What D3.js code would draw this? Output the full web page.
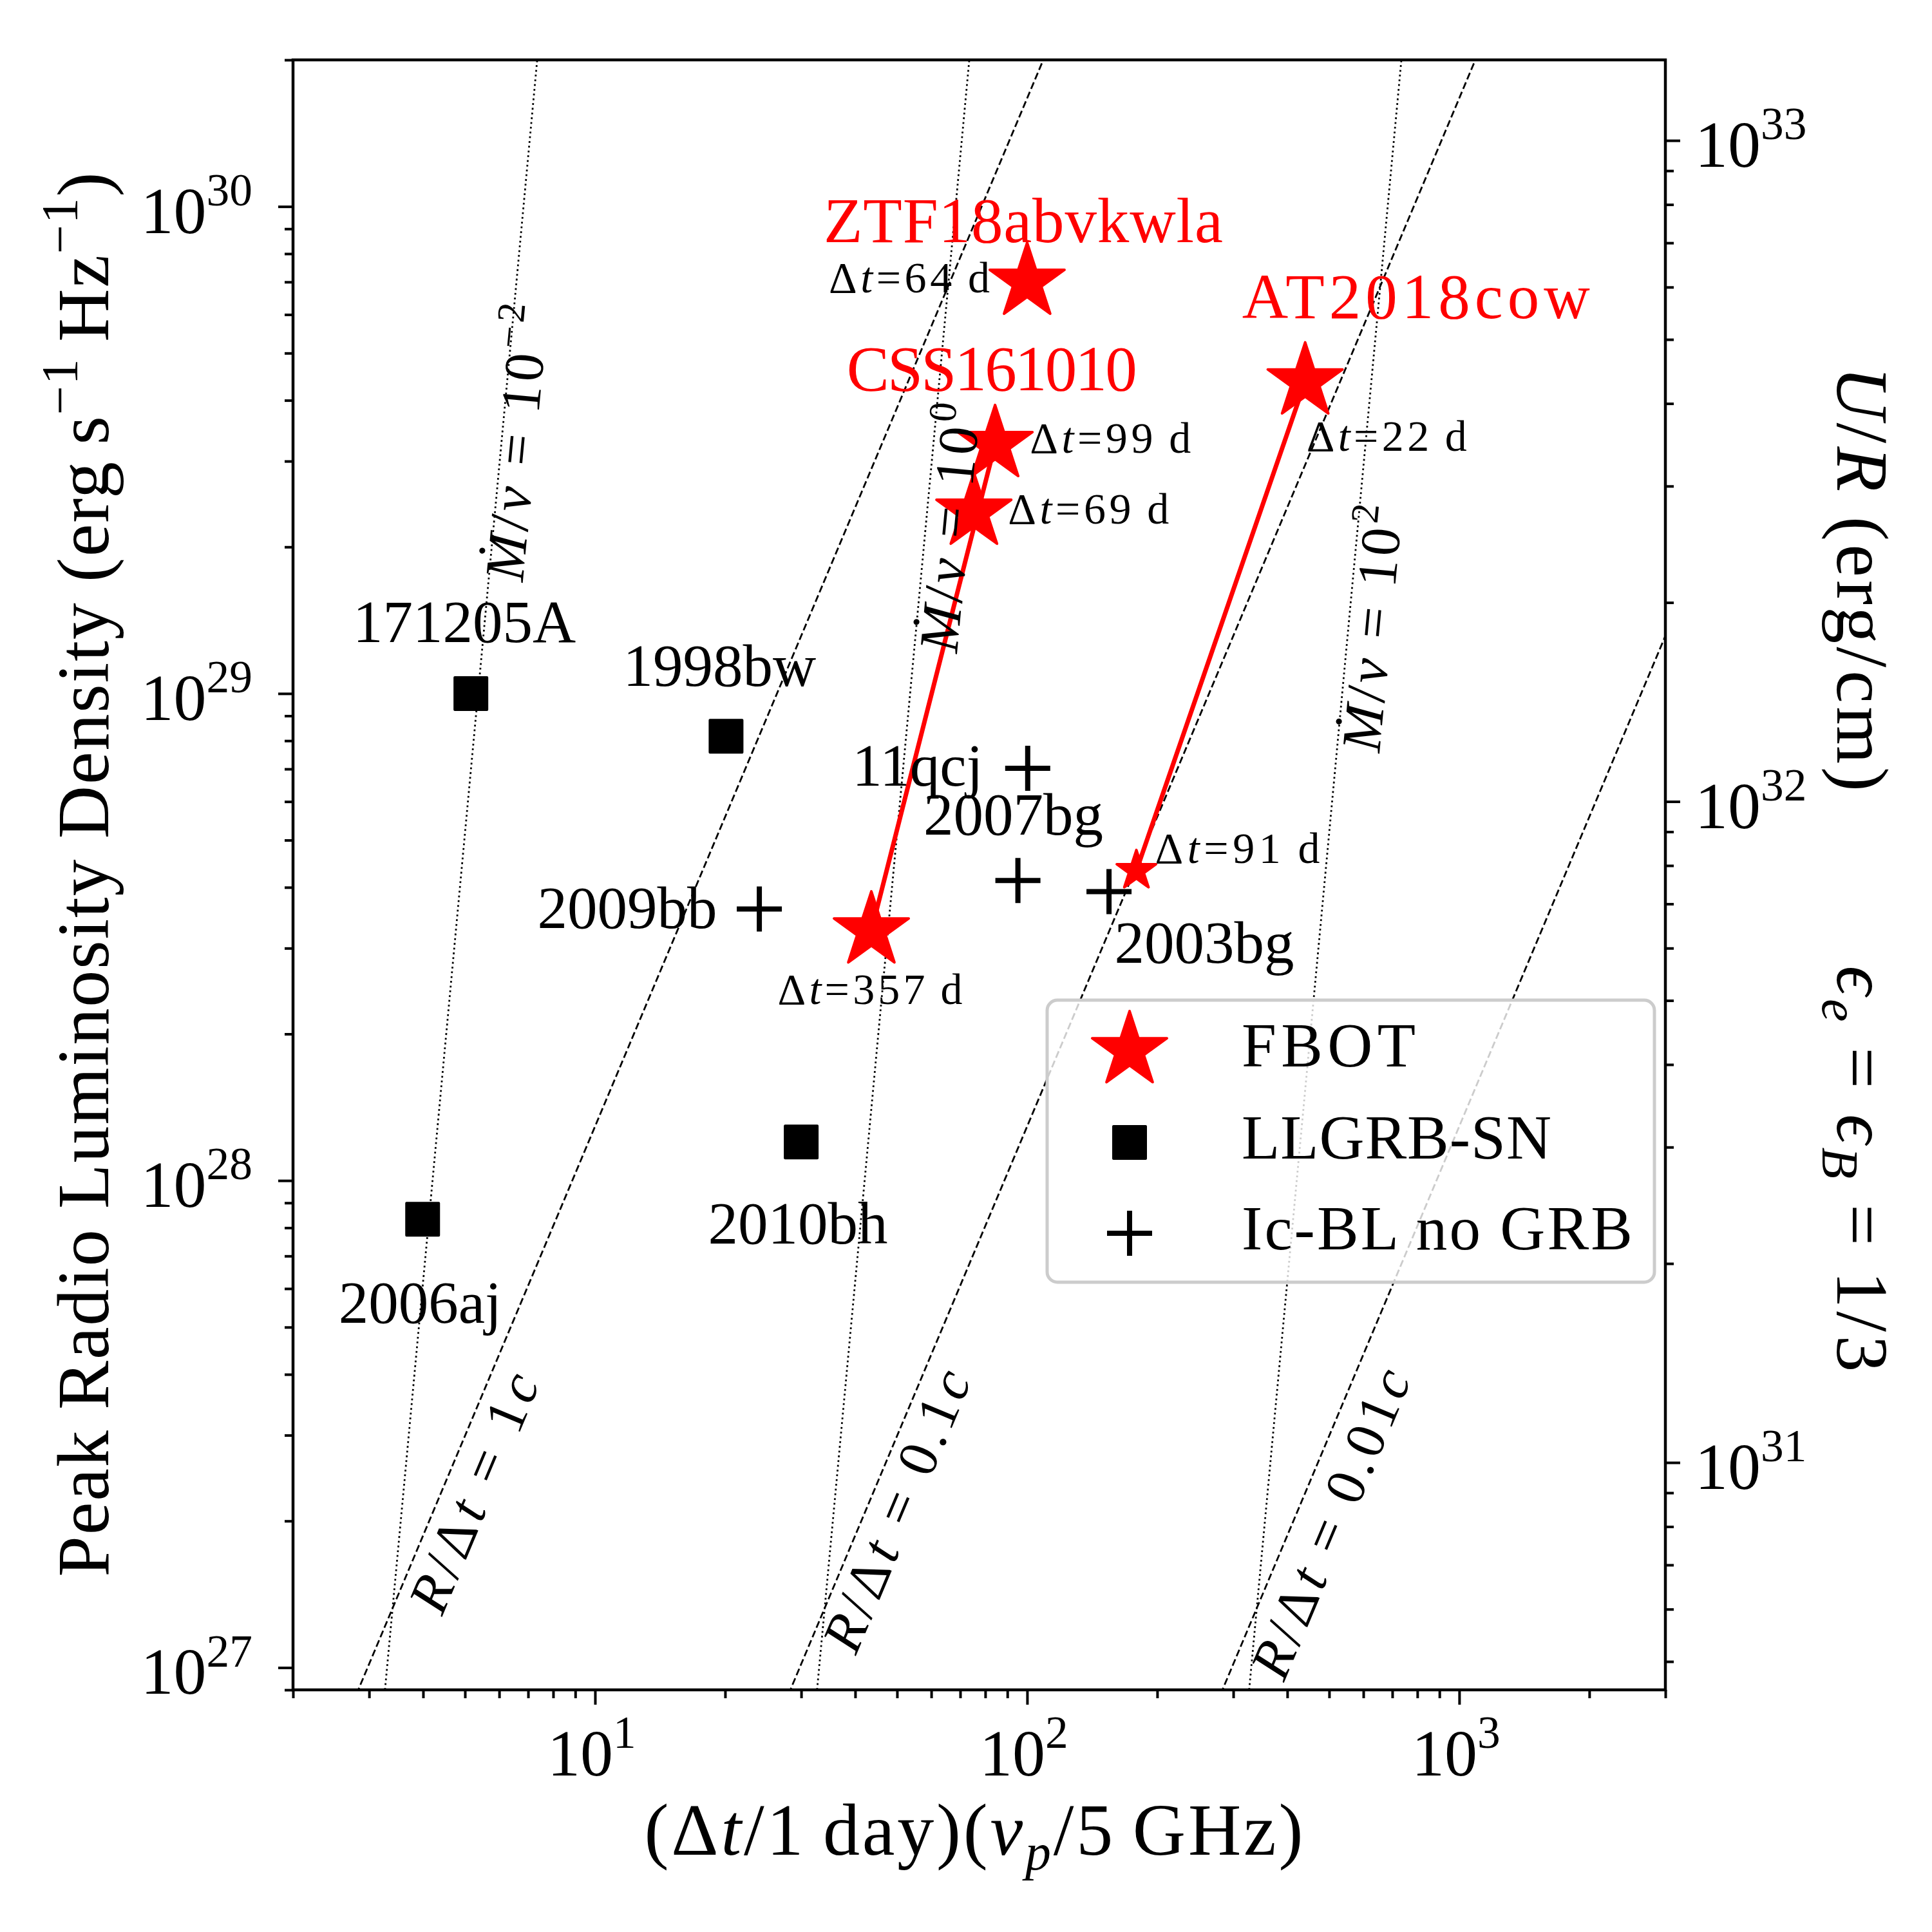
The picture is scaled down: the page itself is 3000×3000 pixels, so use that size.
<!DOCTYPE html>
<html><head><meta charset="utf-8">
<script src="https://cdn.jsdelivr.net/npm/d3@7"></script>
<style>body{margin:0;background:#fff}</style>
</head><body><div id="chart"></div>
<script>
// ================= DATA =================
// FBOT (red stars)
const fbotNames = ["ZTF18abvkwla", "AT2018cow", "AT2018cow", "CSS161010", "CSS161010", "CSS161010"];
const fbotDt    = [64, 22, 91, 99, 69, 357];
const fbotX     = [100, 440, 179, 84.3, 75.3, 43.6];
const fbotL     = [7.0e29, 4.37e29, 4.33e28, 3.25e29, 2.36e29, 3.26e28];
const fbotBig   = [true, true, false, true, true, true];
const fbotArrows = [[5, 3], [2, 1]];          // from index -> to index
// LLGRB-SN (black squares)
const llgrbNames = ["171205A", "1998bw", "2010bh", "2006aj"];
const llgrbX     = [5.16, 20.1, 30.0, 3.99];
const llgrbL     = [1.0e29, 8.17e28, 1.2e28, 8.33e27];
// Ic-BL no GRB (plus)
const icblNames = ["11qcj", "2007bg", "2009bb", "2003bg"];
const icblX     = [100.3, 95.2, 24.0, 154.7];
const icblL     = [7.02e28, 4.13e28, 3.61e28, 3.92e28];
// Axes
const xDomain = [2, 3000];
const yDomain = [9e26, 2e30];
const uDomain = [4.53e30, 1.324e33];
const xTickValues = [1e1, 1e2, 1e3];
const xTickExps   = ["1", "2", "3"];
const yTickValues = [1e27, 1e28, 1e29, 1e30];
const yTickExps   = ["27", "28", "29", "30"];
const uTickValues = [1e31, 1e32, 1e33];
const uTickExps   = ["31", "32", "33"];
// Model lines
const velocities   = [1, 0.1, 0.01];            // R/Δt in units of c
const velocityText = ["1", "0.1", "0.01"];
const mdots        = [1e-2, 1, 1e2];             // Ṁ/v
const mdotExps     = ["−2", "0", "2"];
const radiusNorm = 1e26, radiusSlope = 19 / 9;   // L = norm (x v/c)^(19/9)
const mdotNorm = 3.74e12, mdotSlope = 9.5, mdotPow = 4.75; // L = norm x^9.5 (Ṁ/v)^-4.75
const legendLabels = ["FBOT", "LLGRB-SN", "Ic-BL no GRB"];

// ================= LAYOUT =================
const W = 3000, H = 3000;
const M = {left: 455, right: 2586, top: 93, bottom: 2624};
const RED = "#ff0000";
const FONT = '"Liberation Serif", "DejaVu Serif", serif';
// label anchors in data coordinates (like ax.text)
const velLabelPos  = [[5.75, 2.21e27], [54.7, 2.03e27], [552.6, 1.91e27]];
const velLabelLen  = [394, 465, 512];
const mdotLabelPos = [[7.29, 3.25e29], [73.2, 2.17e29], [695, 1.35e29]];
const mdotLabelLen = [431, 387, 384];
// pixel offsets of labels from their markers
const nameOffsets = {
  "171205A": [-10, -80], "1998bw": [-10, -78], "2010bh": [-5, 158], "2006aj": [-4, 161],
  "11qcj": [-171, 27], "2007bg": [-7, -71], "2009bb": [-205, 29], "2003bg": [148, 111]
};
const redLabelOffsets = [[0, [-6, -62], 620], [1, [172, -99], 540], [3, [-5, -84], 451]];
const dtOffsets = [[-58, 16, "end", 250], [2, 107, "start", 249], [29, -12, "start", 256],
                   [54, 13, "start", 250], [53, 18, "start", 250], [-2, 114, "middle", 287]];

const x  = d3.scaleLog().domain(xDomain).range([M.left, M.right]);
const y  = d3.scaleLog().domain(yDomain).range([M.bottom, M.top]);
const yU = d3.scaleLog().domain(uDomain).range([M.bottom, M.top]);

const svg = d3.select("#chart").append("svg")
  .attr("width", W).attr("height", H).attr("viewBox", `0 0 ${W} ${H}`)
  .style("font-family", FONT);
svg.append("rect").attr("width", W).attr("height", H).attr("fill", "#fff");
svg.append("clipPath").attr("id", "clip").append("rect")
  .attr("x", M.left).attr("y", M.top).attr("width", M.right - M.left).attr("height", M.bottom - M.top);

function rich(sel, parts, fs) {
  let shift = 0;
  parts.forEach(p => {
    const target = p.sup ? -0.42 * fs : p.sub ? 0.2 * fs : 0;
    const ts = sel.append("tspan").text(p.t).attr("dy", target - shift);
    if (p.sup || p.sub) ts.attr("font-size", fs * 0.7);
    if (p.it) ts.attr("font-style", "italic");
    shift = target;
  });
  return sel;
}
function fit(sel, len) {
  return sel.attr("textLength", len).attr("lengthAdjust", "spacing");
}
const isDecade = v => Math.abs(Math.log10(v) - Math.round(Math.log10(v))) < 1e-9;

// ================= GUIDE LINES =================
const plot = svg.append("g").attr("clip-path", "url(#clip)");
const Lrange = [yDomain[0] / 3, yDomain[1] * 3];
const lineGen = d3.line().x(d => x(d[0])).y(d => y(d[1]));
velocities.forEach(v => {
  const pts = Lrange.map(L => [Math.pow(L / radiusNorm, 1 / radiusSlope) / v, L]);
  plot.append("path").attr("d", lineGen(pts)).attr("fill", "none")
    .attr("stroke", "#000").attr("stroke-width", 2.8).attr("stroke-dasharray", "11,5");
});
mdots.forEach(m => {
  const pts = Lrange.map(L => [Math.pow(L * Math.pow(m, mdotPow) / mdotNorm, 1 / mdotSlope), L]);
  plot.append("path").attr("d", lineGen(pts)).attr("fill", "none")
    .attr("stroke", "#000").attr("stroke-width", 2.8).attr("stroke-dasharray", "2.8,4.6");
});

// ================= RED ARROWS =================
fbotArrows.forEach(([a, b]) => {
  plot.append("line")
    .attr("x1", x(fbotX[a])).attr("y1", y(fbotL[a]))
    .attr("x2", x(fbotX[b])).attr("y2", y(fbotL[b]))
    .attr("stroke", RED).attr("stroke-width", 7).attr("stroke-linecap", "round");
});

// ================= MARKERS =================
const starBig = d3.symbol().type(d3.symbolStar).size(61 * 61 / 0.8908130915292852)();
const starSmall = d3.symbol().type(d3.symbolStar).size(32 * 32 / 0.8908130915292852)();
const squarePath = d3.symbol().type(d3.symbolSquare).size(50 * 50)();
const plusPath = "M-35,0H35M0,-35V35";

llgrbX.forEach((v, i) => {
  plot.append("path").attr("d", squarePath)
    .attr("transform", `translate(${x(v)},${y(llgrbL[i])})`)
    .attr("fill", "#000").attr("stroke", "#000").attr("stroke-width", 4).attr("stroke-linejoin", "round");
});
icblX.forEach((v, i) => {
  plot.append("path").attr("d", plusPath)
    .attr("transform", `translate(${x(v)},${y(icblL[i])})`)
    .attr("fill", "none").attr("stroke", "#000").attr("stroke-width", 8);
});
fbotX.forEach((v, i) => {
  plot.append("path").attr("d", fbotBig[i] ? starBig : starSmall)
    .attr("transform", `translate(${x(v)},${y(fbotL[i])})`)
    .attr("fill", RED).attr("stroke", RED).attr("stroke-width", 4).attr("stroke-linejoin", "round");
});

// ================= AXES =================
const axes = svg.append("g");
const TW = 4;
function drawTicks(axisFn, scale, vals, len, transform) {
  const g = axes.append("g").attr("transform", transform)
    .call(axisFn(scale).tickValues(vals).tickSize(len).tickFormat(""));
  g.select(".domain").remove();
  g.selectAll(".tick line").attr("stroke", "#000").attr("stroke-width", TW);
}
const xAll = x.ticks(), yAll = y.ticks(), uAll = yU.ticks();
drawTicks(d3.axisBottom, x, xAll.filter(v => !isDecade(v)), 13, `translate(0,${M.bottom})`);
drawTicks(d3.axisBottom, x, xTickValues, 23, `translate(0,${M.bottom})`);
drawTicks(d3.axisLeft, y, yAll.filter(v => !isDecade(v)), 13, `translate(${M.left},0)`);
drawTicks(d3.axisLeft, y, yTickValues, 23, `translate(${M.left},0)`);
drawTicks(d3.axisRight, yU, uAll.filter(v => !isDecade(v)), 13, `translate(${M.right},0)`);
drawTicks(d3.axisRight, yU, uTickValues, 23, `translate(${M.right},0)`);

const TFS = 102;
xTickValues.forEach((v, i) => {
  rich(axes.append("text").attr("x", x(v) - 5).attr("y", 2757).attr("text-anchor", "middle").attr("font-size", TFS),
    [{t: "10"}, {t: xTickExps[i], sup: true}], TFS);
});
yTickValues.forEach((v, i) => {
  rich(axes.append("text").attr("x", 392).attr("y", y(v) + 41).attr("text-anchor", "end").attr("font-size", TFS),
    [{t: "10"}, {t: yTickExps[i], sup: true}], TFS);
});
uTickValues.forEach((v, i) => {
  rich(axes.append("text").attr("x", 2632).attr("y", yU(v) + 41).attr("text-anchor", "start").attr("font-size", TFS),
    [{t: "10"}, {t: uTickExps[i], sup: true}], TFS);
});

// frame
axes.append("rect").attr("x", M.left).attr("y", M.top).attr("width", M.right - M.left).attr("height", M.bottom - M.top)
  .attr("fill", "none").attr("stroke", "#000").attr("stroke-width", 4.5);

// axis titles
const AFS = 114;
rich(fit(svg.append("text").attr("x", 1512).attr("y", 2880).attr("text-anchor", "middle").attr("font-size", AFS), 1023),
  [{t: "(Δ"}, {t: "t", it: true}, {t: "/1\u2009day)("}, {t: "ν", it: true}, {t: "p", it: true, sub: true}, {t: "/5\u2009GHz)"}], AFS);
rich(fit(svg.append("text").attr("transform", "translate(168,1358) rotate(-90)").attr("text-anchor", "middle").attr("font-size", AFS), 2181),
  [{t: "Peak Radio Luminosity Density (erg\u2009s"}, {t: "−1", sup: true}, {t: "\u2009Hz"}, {t: "−1", sup: true}, {t: ")"}], AFS);
rich(fit(svg.append("text").attr("transform", "translate(2853,899) rotate(90)").attr("text-anchor", "middle").attr("font-size", AFS), 660),
  [{t: "U", it: true}, {t: "/"}, {t: "R", it: true}, {t: " (erg/cm)"}], AFS);
rich(fit(svg.append("text").attr("transform", "translate(2853,1815) rotate(90)").attr("text-anchor", "middle").attr("font-size", AFS), 631),
  [{t: "ϵ", it: true}, {t: "e", it: true, sub: true}, {t: " = "}, {t: "ϵ", it: true}, {t: "B", it: true, sub: true}, {t: " = 1/3"}], AFS);

// ================= TEXT LABELS =================
const labels = svg.append("g");
const LFS = 87;
function lineAngle(p1, p2) {
  return Math.atan2(y(p2[1]) - y(p1[1]), x(p2[0]) - x(p1[0])) * 180 / Math.PI;
}
velocities.forEach((v, i) => {
  const ang = lineAngle([Math.pow(1e27 / radiusNorm, 1 / radiusSlope) / v, 1e27], [Math.pow(1e29 / radiusNorm, 1 / radiusSlope) / v, 1e29]);
  const [lx, ly] = velLabelPos[i];
  rich(fit(labels.append("text").attr("transform", `translate(${x(lx)},${y(ly)}) rotate(${ang})`)
    .attr("text-anchor", "middle").attr("dy", "0.33em").attr("font-size", LFS), velLabelLen[i]),
    [{t: "R", it: true}, {t: "/Δ"}, {t: "t", it: true}, {t: " = " + velocityText[i]}, {t: "c", it: true}], LFS);
});
mdots.forEach((m, i) => {
  const f = L => Math.pow(L * Math.pow(m, mdotPow) / mdotNorm, 1 / mdotSlope);
  const ang = lineAngle([f(1e27), 1e27], [f(1e29), 1e29]);
  const [lx, ly] = mdotLabelPos[i];
  rich(fit(labels.append("text").attr("transform", `translate(${x(lx)},${y(ly)}) rotate(${ang})`)
    .attr("text-anchor", "middle").attr("dy", "0.33em").attr("font-size", LFS), mdotLabelLen[i]),
    [{t: "M\u0307", it: true}, {t: "/"}, {t: "v", it: true}, {t: " = 10"}, {t: mdotExps[i], sup: true}], LFS);
});

const NFS = 93;
function nameLabel(name, px, py) {
  const o = nameOffsets[name];
  labels.append("text").attr("x", px + o[0]).attr("y", py + o[1]).attr("text-anchor", "middle")
    .attr("font-size", NFS).attr("fill", "#000").text(name);
}
llgrbNames.forEach((n, i) => nameLabel(n, x(llgrbX[i]), y(llgrbL[i])));
icblNames.forEach((n, i) => nameLabel(n, x(icblX[i]), y(icblL[i])));
redLabelOffsets.forEach(([i, o, len]) => {
  fit(labels.append("text").attr("x", x(fbotX[i]) + o[0]).attr("y", y(fbotL[i]) + o[1]).attr("text-anchor", "middle")
    .attr("font-size", 99).attr("fill", RED), len).text(fbotNames[i]);
});
const DFS = 68;
fbotDt.forEach((dt, i) => {
  const o = dtOffsets[i];
  rich(fit(labels.append("text").attr("x", x(fbotX[i]) + o[0]).attr("y", y(fbotL[i]) + o[1])
    .attr("text-anchor", o[2]).attr("font-size", DFS), o[3]),
    [{t: "Δ"}, {t: "t", it: true}, {t: "=" + dt + "\u2009d"}], DFS);
});

// ================= LEGEND =================
const lg = svg.append("g");
lg.append("rect").attr("x", 1626).attr("y", 1553).attr("width", 943).attr("height", 438).attr("rx", 16)
  .attr("fill", "#fff").attr("fill-opacity", 0.8).attr("stroke", "#cccccc").attr("stroke-width", 5);
const legMarkers = [
  {d: starBig, fill: RED, stroke: RED, sw: 4},
  {d: squarePath, fill: "#000", stroke: "#000", sw: 4},
  {d: plusPath, fill: "none", stroke: "#000", sw: 8}
];
const legLen = [270, 481, 607];
const rowY = [1631, 1774, 1915];
legendLabels.forEach((lab, i) => {
  const mk = legMarkers[i];
  lg.append("path").attr("d", mk.d).attr("transform", `translate(1754,${rowY[i]})`)
    .attr("fill", mk.fill).attr("stroke", mk.stroke).attr("stroke-width", mk.sw).attr("stroke-linejoin", "round");
  fit(lg.append("text").attr("x", 1928).attr("y", rowY[i] + 25)
    .attr("font-size", 97), legLen[i]).text(lab);
});
</script>
</body></html>
